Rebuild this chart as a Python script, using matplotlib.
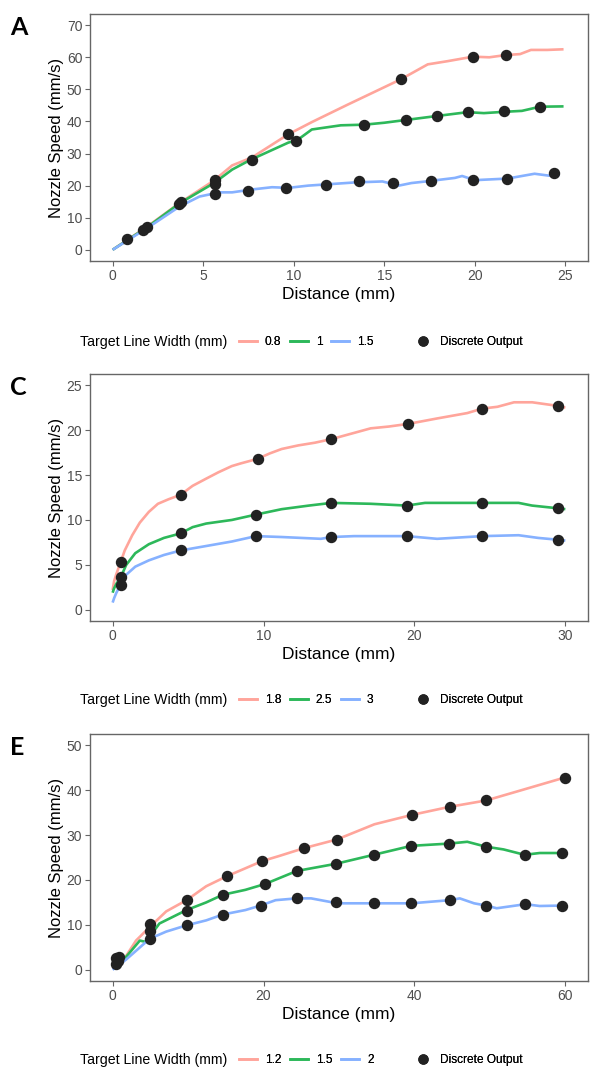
import numpy as np
import matplotlib
matplotlib.use("Agg")
import matplotlib.pyplot as plt
from matplotlib.lines import Line2D

plt.rcParams['font.family'] = ['Liberation Sans', 'DejaVu Sans']

# ---------------- panel A (target widths 0.8 / 1 / 1.5 mm) ----------------
a_red_x = [0, 2, 3.7, 5.6, 6.6, 7.7, 9.7, 11, 13, 15.9, 17.4, 18.5, 19.9, 20.8, 21.7, 22.5, 23.1, 24, 24.9]
a_red_y = [0, 7.6, 14.6, 21.6, 26.3, 28.8, 36, 39.8, 45.3, 53.1, 57.8, 58.8, 60.2, 60.0, 60.7, 61.0, 62.3, 62.3, 62.5]
a_grn_x = [0, 2, 3.7, 5.6, 6.6, 7.6, 9.7, 10.2, 11, 12.6, 13.9, 15, 16.1, 17.9, 19.6, 20.5, 21.6, 22.6, 23.6, 24.9]
a_grn_y = [0, 7.4, 14.5, 20.8, 25, 28, 33.4, 34.2, 37.5, 38.8, 39, 39.6, 40.4, 41.7, 42.9, 42.6, 43, 43.3, 44.6, 44.7]
a_blu_x = [0, 2, 3.7, 4.8, 5.9, 6.6, 7.7, 8.8, 9.7, 10.8, 13.4, 14.9, 15.8, 16.5, 17.3, 18.9, 19.3, 20, 21.8, 23.3, 24.1, 24.7]
a_blu_y = [0, 7.1, 13.5, 16.6, 17.9, 17.9, 18.8, 19.5, 19.3, 20, 21, 21.3, 20, 20.8, 21.3, 22.4, 23, 21.7, 22.2, 23.7, 23.1, 23.4]
a_pts_x = [0.82, 1.65, 1.87, 3.68, 3.8, 5.66, 5.66, 5.66, 7.7, 7.5, 9.7, 10.1, 9.6,
           15.9, 19.9, 21.7, 13.9, 16.2, 17.9, 19.6, 21.6, 23.6,
           11.8, 13.6, 15.5, 17.6, 19.9, 21.8, 24.4]
a_pts_y = [3.4, 6.25, 7.1, 14.4, 14.9, 21.6, 20.6, 17.4, 28.1, 18.4, 36, 34, 19.3,
           53.1, 60.2, 60.7, 38.9, 40.3, 41.7, 42.9, 43.2, 44.6,
           20.3, 21.3, 20.8, 21.3, 21.9, 22.2, 24]

# ---------------- panel C (target widths 1.8 / 2.5 / 3 mm) ----------------
c_red_x = [0, 0.1, 0.25, 0.53, 0.8, 1.3, 1.8, 2.4, 3.0, 3.7, 4.5, 5.3, 6.2, 7.0, 7.9, 8.5, 9.6, 10.4, 11.2, 12.3,
           13.4, 14.5, 15.8, 17.1, 18.3, 19.6, 21.5, 23.5, 24.5, 25.5, 26.6, 27.8, 29.5, 30]
c_red_y = [2.2, 3.2, 4.0, 5.3, 6.6, 8.3, 9.7, 10.9, 11.8, 12.3, 12.8, 13.8, 14.6, 15.3, 16.0, 16.3, 16.8, 17.4, 17.9, 18.3,
           18.6, 19.0, 19.6, 20.2, 20.4, 20.7, 21.3, 21.9, 22.4, 22.6, 23.1, 23.1, 22.7, 22.5]
c_grn_x = [0, 0.1, 0.25, 0.53, 0.9, 1.5, 2.4, 3.4, 4.5, 5.3, 6.2, 7.9, 9.5, 11.2, 13, 14.5, 17.1, 19.5, 20.7, 24.5, 26.9, 27.8, 29.5, 30]
c_grn_y = [1.9, 2.4, 2.9, 3.6, 5.0, 6.3, 7.3, 8.0, 8.5, 9.2, 9.6, 10.0, 10.6, 11.2, 11.6, 11.9, 11.8, 11.6, 11.9, 11.9, 11.9, 11.6, 11.3, 11.2]
c_blu_x = [0, 0.1, 0.25, 0.53, 0.9, 1.5, 2.4, 3.4, 4.5, 6.2, 7.9, 9.5, 11.2, 13.8, 14.5, 16, 19.5, 21.5, 24.5, 26.9, 28.2, 29.5, 30]
c_blu_y = [0.8, 1.3, 1.9, 2.8, 3.9, 4.8, 5.5, 6.1, 6.6, 7.1, 7.6, 8.2, 8.1, 7.9, 8.1, 8.2, 8.2, 7.9, 8.2, 8.3, 8.0, 7.8, 7.7]
c_pts_x = [0.53, 4.5, 9.6, 14.5, 19.6, 24.5, 29.5,
           0.53, 4.5, 9.5, 14.5, 19.5, 24.5, 29.5,
           0.53, 4.5, 9.5, 14.5, 19.5, 24.5, 29.5]
c_pts_y = [5.3, 12.8, 16.8, 19.0, 20.7, 22.4, 22.7,
           3.6, 8.5, 10.6, 11.9, 11.6, 11.9, 11.3,
           2.8, 6.6, 8.2, 8.1, 8.2, 8.2, 7.8]

# ---------------- panel E (target widths 1.2 / 1.5 / 2 mm) ----------------
e_red_x = [0, 1.8, 3.1, 4.9, 7.1, 9.8, 12.4, 15.1, 17.6, 19.8, 22, 25.4, 29.7, 34.7, 39.7, 44.7, 49.5, 54, 59.9]
e_red_y = [0.3, 3.1, 6.5, 9.5, 13.0, 15.5, 18.6, 20.8, 22.6, 24.2, 25.3, 27.1, 29.0, 32.4, 34.5, 36.3, 37.7, 39.9, 42.8]
e_grn_x = [0, 1.8, 3.6, 4.4, 6.2, 9.8, 12.4, 14.6, 17.6, 20.2, 24.4, 29.6, 34.6, 39.6, 44.6, 47, 49.5, 51.8, 54.6, 56.6, 59.5]
e_grn_y = [0.8, 2.9, 6.5, 6.2, 10.3, 13.3, 15.0, 16.7, 17.8, 19.1, 22.0, 23.6, 25.6, 27.6, 28.1, 28.5, 27.4, 26.8, 25.6, 26.0, 26.0]
e_blu_x = [0, 1.8, 4.9, 7.1, 9.8, 12.4, 14.6, 17.6, 19.6, 21.6, 24.4, 26.3, 29.8, 34.6, 39.6, 44.7, 46, 47.9, 49.5, 50.9, 54.7, 56.6, 59.6]
e_blu_y = [0, 2.3, 6.9, 8.5, 9.9, 11.0, 12.3, 13.3, 14.3, 15.5, 15.9, 15.9, 14.8, 14.8, 14.8, 15.5, 15.9, 14.8, 14.3, 13.7, 14.6, 14.2, 14.3]
e_pts_x = [0.5, 0.8, 4.9, 9.8, 15.1, 19.8, 25.4, 29.7, 39.7, 44.7, 49.5, 59.9,
           0.7, 4.9, 9.8, 14.6, 20.2, 24.4, 29.6, 34.6, 39.6, 44.6, 49.5, 54.6, 59.5,
           0.4, 4.9, 9.8, 14.6, 19.6, 24.4, 29.6, 34.6, 39.6, 44.7, 49.5, 54.7, 59.6]
e_pts_y = [2.6, 2.8, 10.2, 15.5, 20.8, 24.2, 27.1, 29.0, 34.5, 36.3, 37.7, 42.8,
           2.0, 8.7, 13.1, 16.7, 19.1, 22.0, 23.6, 25.6, 27.6, 28.1, 27.4, 25.6, 26.0,
           1.3, 6.8, 9.9, 12.3, 14.3, 15.9, 15.0, 14.8, 14.8, 15.5, 14.3, 14.6, 14.3]

panels = [
    dict(letter='A', labels=['0.8', '1', '1.5'],
         lines=[(a_red_x, a_red_y), (a_grn_x, a_grn_y), (a_blu_x, a_blu_y)],
         pts=(a_pts_x, a_pts_y), xlim=(-1.25, 26.25), ylim=(-3.5, 73.5),
         xticks=[0, 5, 10, 15, 20, 25], yticks=np.arange(0, 71, 10)),
    dict(letter='C', labels=['1.8', '2.5', '3'],
         lines=[(c_red_x, c_red_y), (c_grn_x, c_grn_y), (c_blu_x, c_blu_y)],
         pts=(c_pts_x, c_pts_y), xlim=(-1.5, 31.5), ylim=(-1.25, 26.25),
         xticks=[0, 10, 20, 30], yticks=np.arange(0, 26, 5)),
    dict(letter='E', labels=['1.2', '1.5', '2'],
         lines=[(e_red_x, e_red_y), (e_grn_x, e_grn_y), (e_blu_x, e_blu_y)],
         pts=(e_pts_x, e_pts_y), xlim=(-3, 63), ylim=(-2.5, 52.5),
         xticks=[0, 20, 40, 60], yticks=np.arange(0, 51, 10)),
]

colors = ['#FFA59B', '#2DB85A', '#86B1FF']
W, H = 590, 1072
fig = plt.figure(figsize=(W / 100, H / 100), dpi=100)

axes_top = [14, 374, 734]
legend_y = [342, 700, 1060]
tick_col = '#4D4D4D'

for p, top, ly in zip(panels, axes_top, legend_y):
    ax = fig.add_axes([90 / W, 1 - (top + 247) / H, 498 / W, 247 / H])
    for (x, y), c in zip(p['lines'], colors):
        ax.plot(x, y, color=c, lw=1.9, solid_capstyle='butt')
    ax.plot(p['pts'][0], p['pts'][1], 'o', color='#222222', ms=7.2, ls='none')
    ax.set_xlim(*p['xlim'])
    ax.set_ylim(*p['ylim'])
    ax.set_xticks(p['xticks'])
    ax.set_yticks(p['yticks'])
    ax.tick_params(length=3.5, width=0.8, color='#666666', labelsize=10,
                   labelcolor=tick_col, pad=2)
    for s in ax.spines.values():
        s.set_color('#666666')
        s.set_linewidth(1.0)
    ax.set_xlabel('Distance (mm)', fontsize=12.5, labelpad=3)
    ax.set_ylabel('Nozzle Speed (mm/s)', fontsize=12, labelpad=2)

    fig.text(10 / W, 1 - (top + 2) / H, p['letter'], family='Lato', weight='bold',
             fontsize=18, ha='left', va='top')

    # legend row under each panel
    fig.text(80 / W, 1 - ly / H, 'Target Line Width (mm)', fontsize=10.2,
             ha='left', va='center')
    handles = [Line2D([], [], color=c, lw=1.9) for c in colors]
    lg = fig.legend(handles, p['labels'], loc='center left',
                    bbox_to_anchor=(239 / W, 1 - ly / H), ncol=3, frameon=False,
                    fontsize=8.6, handlelength=1.5, handletextpad=0.65,
                    columnspacing=0.75, borderpad=0, borderaxespad=0)
    fig.add_artist(lg)
    dot = [Line2D([], [], marker='o', color='#222222', ls='none', ms=6.5)]
    lg2 = fig.legend(dot, ['Discrete Output'], loc='center left',
                     bbox_to_anchor=(417 / W, 1 - ly / H), frameon=False,
                     fontsize=8.6, handlelength=1.0, handletextpad=0.9,
                     borderpad=0, borderaxespad=0)
    fig.add_artist(lg2)

fig.savefig('out.png', dpi=100)
